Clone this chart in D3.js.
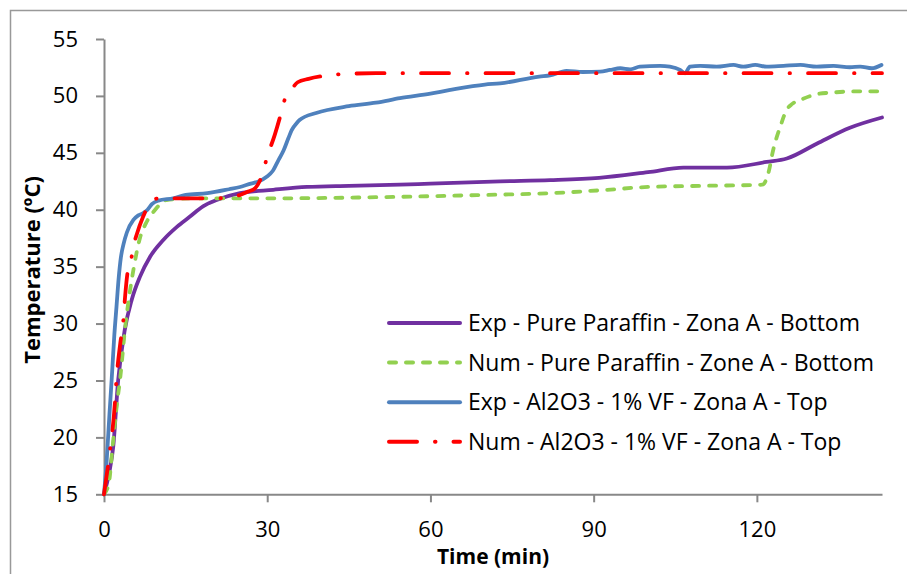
<!DOCTYPE html>
<html>
<head>
<meta charset="utf-8">
<script src="https://cdn.jsdelivr.net/npm/d3@7"></script>
<style>
  body { margin: 0; background: #fff; }
  svg { display: block; font-family: "Open Sans", Lato, sans-serif; }
</style>
</head>
<body>
<div id="chart"></div>
<script>
// Series data: [time (min), temperature (°C)]
var expParaffin = [
  [0, 15], [1.0, 17], [1.7, 19.2], [2.6, 25], [3.8, 29.4], [5.1, 32.1], [6.6, 34.1],
  [8.5, 35.9], [10.9, 37.35], [13.4, 38.5], [15.8, 39.4], [18.2, 40.3], [20.7, 40.85],
  [25, 41.45], [31.1, 41.75], [37.3, 42.0], [45, 42.1], [54.4, 42.2], [60, 42.3],
  [72.8, 42.5], [82, 42.6], [91, 42.8], [100, 43.3], [106.5, 43.7], [114.5, 43.7],
  [121.8, 44.2], [125.5, 44.5], [131, 45.8], [137.1, 47.2], [143, 48.1]
];
var numParaffin = [
  [0, 15], [0.9, 16], [1.6, 19.3], [2.4, 23], [3.0, 25.3], [3.9, 29.7], [4.6, 32.3],
  [5.4, 34.7], [6.6, 37.5], [7.7, 38.8], [9.4, 40.0], [11.5, 40.85], [15.8, 41.0],
  [30, 41.0], [50, 41.1], [70, 41.3], [82, 41.45], [91, 41.7], [100, 42.0], [110, 42.1],
  [121, 42.2], [122.1, 43.2], [123, 45.25], [124.3, 47.3], [125.5, 48.8], [126.5, 49.3],
  [128, 49.65], [131, 50.15], [134, 50.3], [138, 50.4], [143, 50.4]
];
var expAl2o3 = [
  [0, 15], [0.5, 18], [1.0, 22], [1.4, 25], [1.9, 29], [2.3, 31.5], [2.7, 34], [3.1, 35.8],
  [3.6, 37], [4.2, 38], [5.4, 39.1], [6.3, 39.5], [7.2, 39.7], [8.0, 40.0], [8.8, 40.5],
  [10, 40.8], [12.7, 41.0], [15, 41.3], [19, 41.45], [23, 41.8], [25, 42.0], [27, 42.3],
  [28.5, 42.5], [29.9, 42.9], [31, 43.4], [32, 44.3], [33, 45.2], [33.9, 46.3], [34.5, 47.0],
  [35.4, 47.6], [36.0, 47.9], [39, 48.5], [45, 49.1], [50, 49.4], [54.4, 49.8], [60, 50.2],
  [63.4, 50.5], [70, 51.0], [72.8, 51.1], [80, 51.7], [82, 51.8], [85, 52.2], [88, 52.1],
  [91.2, 52.13], [93.0, 52.28], [94.9, 52.43], [96.7, 52.34], [98.5, 52.57], [102.2, 52.64],
  [104.0, 52.57], [105.9, 52.28], [106.8, 51.99], [107.7, 52.57], [109.6, 52.64],
  [112.6, 52.57], [115.7, 52.72], [117.5, 52.57], [119.7, 52.72], [121.8, 52.57],
  [124.9, 52.64], [128.0, 52.72], [131.0, 52.57], [134.1, 52.64], [137.1, 52.52],
  [139.0, 52.57], [141.1, 52.43], [142.9, 52.72]
];
var numAl2o3 = [
  [0, 15], [0.8, 17.75], [1.1, 18.9], [2.0, 23], [2.2, 24.5], [3.0, 28.3], [3.5, 30],
  [3.9, 32.5], [4.4, 34.7], [4.9, 35.4], [5.4, 36.8], [6.0, 37.8], [7.2, 39.4], [8.5, 40.6],
  [10.0, 41.0], [15, 41.0], [20, 41.0], [23, 41.05], [25, 41.3], [26.5, 41.6], [27.8, 41.9],
  [28.6, 42.5], [29.1, 43.1], [29.9, 44.5], [31.4, 46.6], [32.5, 48.4], [33.3, 49.8],
  [34.5, 50.6], [35.6, 51.2], [37.6, 51.5], [40.3, 51.75], [43.4, 51.9], [50, 52.0], [143, 52.0]
];

var seriesNames = [
  "Exp - Pure Paraffin - Zona A - Bottom",
  "Num - Pure Paraffin - Zone A - Bottom",
  "Exp - Al2O3 - 1% VF - Zona A - Top",
  "Num - Al2O3 - 1% VF - Zona A - Top"
];
var seriesData = [expParaffin, numParaffin, expAl2o3, numAl2o3];
var seriesColors = ["#7030A0", "#92D050", "#4F81BD", "#FF0000"];
var seriesDash = [null, "7,10", null, "28,18,0.5,18"];

var xTicks = [0, 30, 60, 90, 120];
var yTicks = [15, 20, 25, 30, 35, 40, 45, 50, 55];

var width = 907, height = 574;
var svg = d3.select("#chart").append("svg")
    .attr("width", width)
    .attr("height", height);

// chart frame (only left and top edges are visible)
svg.append("rect")
    .attr("x", 10.5).attr("y", 10.5)
    .attr("width", 1000).attr("height", 1000)
    .attr("fill", "none")
    .attr("stroke", "#999")
    .attr("stroke-width", 1.5);

var x = d3.scaleLinear().domain([0, 143]).range([104, 882]);
var y = d3.scaleLinear().domain([15, 55]).range([494.3, 39]);

var xAxis = svg.append("g")
    .attr("transform", "translate(0," + y(15) + ")")
    .call(d3.axisBottom(x).tickValues(xTicks).tickSizeInner(8).tickSizeOuter(0).tickPadding(19));
var yAxis = svg.append("g")
    .attr("transform", "translate(" + x(0) + ",0)")
    .call(d3.axisLeft(y).tickValues(yTicks).tickSizeInner(8).tickSizeOuter(0).tickPadding(18));

[xAxis, yAxis].forEach(function (g) {
    g.attr("font-family", null).attr("font-size", null);
    g.selectAll("path, line").attr("stroke", "#888").attr("stroke-width", 2);
    g.selectAll("text").attr("fill", "#000").style("font-size", "22px");
});

// axis titles
svg.append("text")
    .attr("x", (x(0) + x(143)) / 2)
    .attr("y", 564)
    .attr("text-anchor", "middle")
    .style("font-size", "21px")
    .style("font-weight", "bold")
    .text("Time (min)");

svg.append("text")
    .attr("transform", "translate(40," + 270 + ") rotate(-90)")
    .attr("text-anchor", "middle")
    .style("font-size", "22px")
    .style("font-weight", "bold")
    .text("Temperature (ºC)");

var line = d3.line()
    .x(function (d) { return x(d[0]); })
    .y(function (d) { return y(d[1]); })
    .curve(d3.curveMonotoneX);

seriesData.forEach(function (data, i) {
    svg.append("path")
        .datum(data)
        .attr("d", line)
        .attr("fill", "none")
        .attr("stroke", seriesColors[i])
        .attr("stroke-width", 3.8)
        .attr("stroke-linecap", "round")
        .attr("stroke-linejoin", "round")
        .attr("stroke-dasharray", seriesDash[i]);
});

// legend
var legend = svg.append("g").attr("transform", "translate(389,323)");
var rows = legend.selectAll("g")
    .data(seriesNames)
    .enter().append("g")
    .attr("transform", function (d, i) { return "translate(0," + i * 39.6 + ")"; });

rows.append("line")
    .attr("x1", 0).attr("x2", 71)
    .attr("stroke", function (d, i) { return seriesColors[i]; })
    .attr("stroke-width", 4)
    .attr("stroke-linecap", "round")
    .attr("stroke-dasharray", function (d, i) { return seriesDash[i]; });

rows.append("text")
    .attr("x", 79)
    .attr("dy", "0.35em")
    .style("font-size", "23px")
    .text(function (d) { return d; });
</script>
</body>
</html>
